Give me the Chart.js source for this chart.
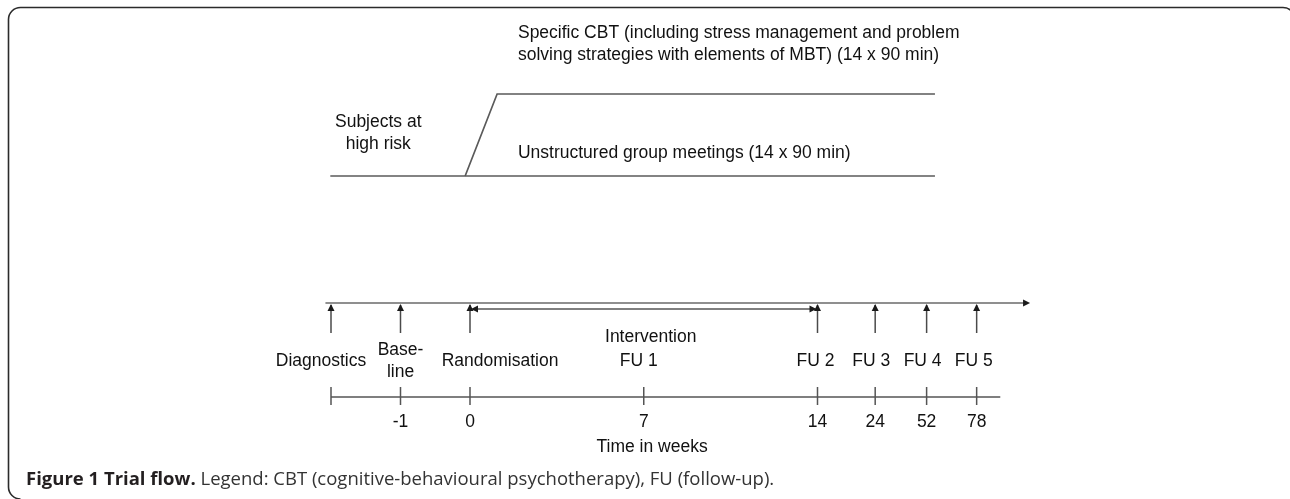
<!DOCTYPE html>
<html>
<head>
<meta charset="utf-8">
<script src="https://cdn.jsdelivr.net/npm/chart.js@4/dist/chart.umd.min.js"></script>
<style>
  html, body { margin: 0; padding: 0; background: #fff; }
  #wrap { width: 1290px; height: 499px; position: relative; }
</style>
</head>
<body>
<div id="wrap"><canvas id="c"></canvas></div>
<script>
// ---- Data (schematic timeline) ----
const milestones = ["Diagnostics", "Baseline", "Randomisation", "FU 1", "FU 2", "FU 3", "FU 4", "FU 5"];
const milestoneText = [["Diagnostics"], ["Base-", "line"], ["Randomisation"], ["FU 1"], ["FU 2"], ["FU 3"], ["FU 4"], ["FU 5"]];
const weekLabels = ["", "-1", "0", "7", "14", "24", "52", "78"];
// position of each milestone along the (non-proportional) time axis
const timelinePos = [-2, -1, 0, 2.5, 5, 5.83, 6.57, 7.29];
const hasAssessmentArrow = [true, true, true, false, true, true, true, true];
const interventionSpan = [0, 5];           // randomisation -> FU 2
const interventionLabel = "Intervention";
const axisTitle = "Time in weeks";
const startGroup = ["Subjects at", "high risk"];
const armLabels = [
  ["Specific CBT (including stress management and problem", "solving strategies with elements of MBT) (14 x 90 min)"],
  ["Unstructured group meetings (14 x 90 min)"]
];
const captionBold = "Figure 1 Trial flow.";
const captionText = " Legend: CBT (cognitive-behavioural psychotherapy), FU (follow-up).";

// ---- layout rows (y units) ----
const ROW = { armTop: 94, armBottom: 176, axis: 303, stemBottom: 333, interv: 309, label: 361,
              bottomAxis: 397, tickTop: 387, tickBottom: 405, tickLabel: 422, title: 447 };
const SPAN = { axisStart: -2.08, axisEnd: 8.03, bottomEnd: 7.63, armStart: -2.01, branchFoot: -0.07, branchTop: 0.39, armEnd: 6.69 };

const LINE = '#5a5a5a';
const seg = (pts, extra) => Object.assign({ data: pts.map(p => ({ x: p[0], y: p[1] })), showLine: true,
  borderColor: LINE, borderWidth: 1.7, pointRadius: 0, fill: false, tension: 0 }, extra || {});

const datasets = [];
// top timeline axis
datasets.push(seg([[SPAN.axisStart, ROW.axis], [SPAN.axisEnd, ROW.axis]], { borderColor: '#6a6a6a' }));
// assessment arrows
timelinePos.forEach((p, i) => {
  if (hasAssessmentArrow[i]) datasets.push(seg([[p, ROW.stemBottom], [p, ROW.axis + 2]], { borderColor: '#4a4a4a', borderWidth: 1.5 }));
});
// intervention double arrow
datasets.push(seg([[interventionSpan[0] + 0.05, ROW.interv], [interventionSpan[1] - 0.05, ROW.interv]], { borderColor: '#555' }));
// bottom time axis with ticks
datasets.push(seg([[timelinePos[0], ROW.bottomAxis], [SPAN.bottomEnd, ROW.bottomAxis]], { borderColor: '#555', borderWidth: 1.5 }));
timelinePos.forEach(p => datasets.push(seg([[p, ROW.tickTop], [p, ROW.tickBottom]], { borderColor: '#555', borderWidth: 1.5 })));
// flow diagram (two arms)
datasets.push(seg([[SPAN.armStart, ROW.armBottom], [SPAN.armEnd, ROW.armBottom]]));
datasets.push(seg([[SPAN.branchFoot, ROW.armBottom], [SPAN.branchTop, ROW.armTop], [SPAN.armEnd, ROW.armTop]]));

const UNIT = 69.5, ORIGIN = 470;

const decor = {
  id: 'decor',
  afterDatasetsDraw(chart) {
    const ctx = chart.ctx, xs = chart.scales.x, ys = chart.scales.y;
    const X = v => xs.getPixelForValue(v), Y = v => ys.getPixelForValue(v);
    ctx.save();
    // arrowheads
    const head = (x, y, dir) => {
      ctx.beginPath();
      const L = 7, W = 3.5;
      if (dir === 'up') { ctx.moveTo(x, y); ctx.lineTo(x - W, y + L); ctx.lineTo(x + W, y + L); }
      if (dir === 'right') { ctx.moveTo(x, y); ctx.lineTo(x - L, y - W); ctx.lineTo(x - L, y + W); }
      if (dir === 'left') { ctx.moveTo(x, y); ctx.lineTo(x + L, y - W); ctx.lineTo(x + L, y + W); }
      ctx.closePath(); ctx.fill();
    };
    ctx.fillStyle = '#1a1a1a';
    timelinePos.forEach((p, i) => { if (hasAssessmentArrow[i]) head(X(p), Y(ROW.axis) + 1, 'up'); });
    head(X(SPAN.axisEnd) + 2, Y(ROW.axis), 'right');
    head(X(interventionSpan[0]) + 1, Y(ROW.interv), 'left');
    head(X(interventionSpan[1]) - 1, Y(ROW.interv), 'right');

    // texts
    ctx.fillStyle = '#111';
    ctx.textBaseline = 'middle';
    ctx.font = '17.5px "Liberation Sans", Arial, sans-serif';
    const labelShift = [-10, 0, 30, -5, -2, -4, -4, -3];
    milestoneText.forEach((lines, i) => {
      ctx.textAlign = 'center';
      const x = X(timelinePos[i]) + labelShift[i];
      if (lines.length === 1) ctx.fillText(lines[0], x, Y(ROW.label));
      else { ctx.fillText(lines[0], x, Y(ROW.label) - 11); ctx.fillText(lines[1], x, Y(ROW.label) + 11); }
    });
    ctx.textAlign = 'center';
    ctx.fillText(interventionLabel, (X(interventionSpan[0]) + X(interventionSpan[1])) / 2 + 7, Y(ROW.label) - 24);
    weekLabels.forEach((w, i) => { if (w) ctx.fillText(w, X(timelinePos[i]), Y(ROW.tickLabel)); });
    ctx.fillText(axisTitle, X(2.62), Y(ROW.title));
    ctx.fillText(startGroup[0], X(-1.32), Y(122));
    ctx.fillText(startGroup[1], X(-1.32), Y(144));
    ctx.textAlign = 'left';
    ctx.fillText(armLabels[0][0], X(0.69), Y(33));
    ctx.fillText(armLabels[0][1], X(0.69), Y(55));
    ctx.fillText(armLabels[1][0], X(0.69), Y(153));

    // caption
    ctx.textAlign = 'left';
    ctx.fillStyle = '#231f20';
    ctx.font = 'bold 18.5px "Open Sans", sans-serif';
    const cx = 26, cy = 480;
    ctx.fillText(captionBold, cx, cy);
    const bw = ctx.measureText(captionBold).width;
    ctx.font = '18.5px "Open Sans", sans-serif';
    ctx.fillStyle = '#333';
    ctx.fillText(captionText, cx + bw, cy);

    // frame (rounded box open to the right/bottom)
    ctx.strokeStyle = '#2b2b2b';
    ctx.lineWidth = 1.6;
    ctx.beginPath();
    const r = 12, l = 8.5, t = 7.5;
    ctx.moveTo(l, 487);
    ctx.lineTo(l, t + r);
    ctx.arcTo(l, t, l + r, t, r);
    ctx.lineTo(1283, t);
    ctx.arcTo(1295, t, 1295, t + r, r);
    ctx.moveTo(l, 487);
    ctx.arcTo(l, 499, l + r, 499, r);
    ctx.stroke();
    ctx.restore();
  }
};

new Chart(document.getElementById('c'), {
  type: 'scatter',
  data: { datasets },
  options: {
    responsive: true, maintainAspectRatio: false, animation: false,
    layout: { padding: 0 },
    plugins: { legend: { display: false }, tooltip: { enabled: false } },
    scales: {
      x: { type: 'linear', display: false, min: -ORIGIN / UNIT, max: (1290 - ORIGIN) / UNIT },
      y: { type: 'linear', display: false, min: 0, max: 499, reverse: true }
    }
  },
  plugins: [decor]
});
</script>
</body>
</html>
